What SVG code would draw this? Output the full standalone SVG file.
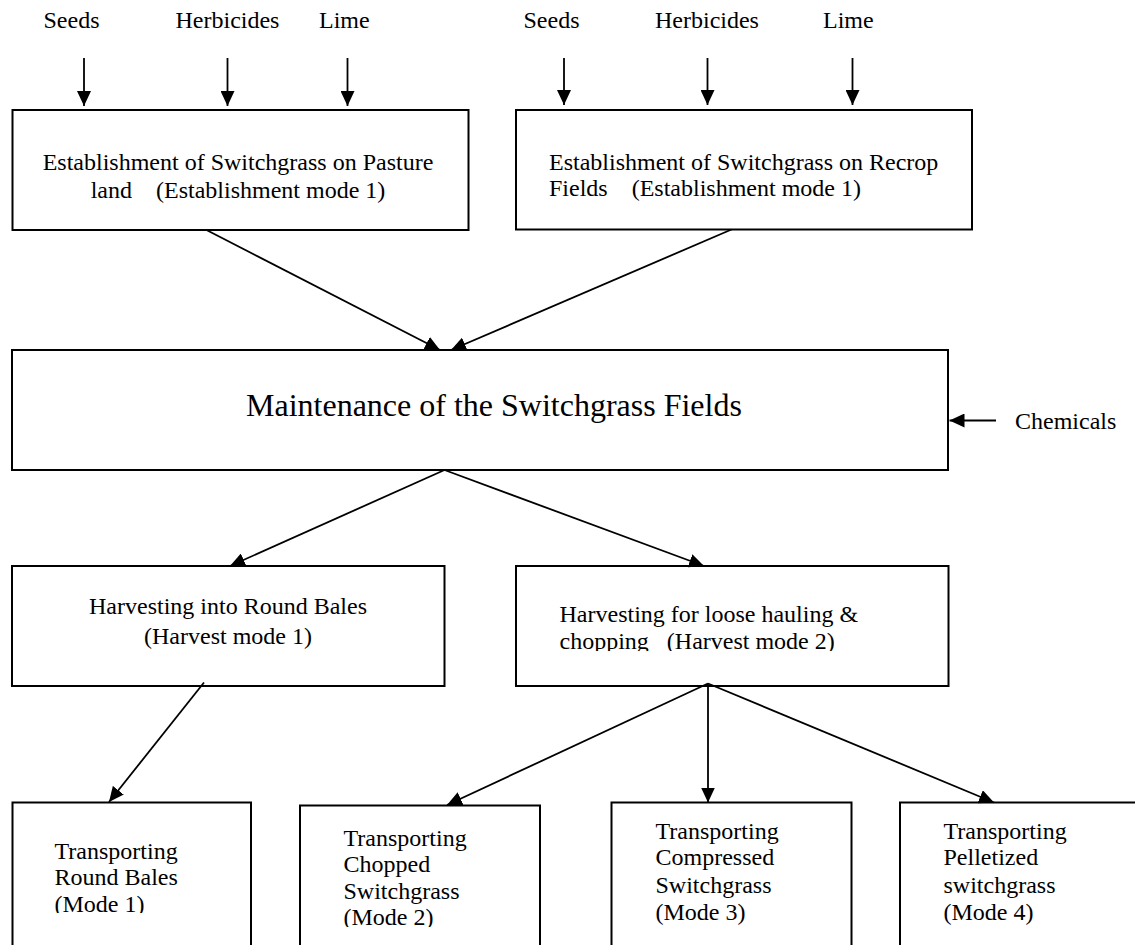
<svg xmlns="http://www.w3.org/2000/svg" width="1135" height="945" viewBox="0 0 1135 945">
<style>
text{font-family:"Liberation Serif","Times New Roman",serif;font-size:24px;fill:#000;white-space:pre}
.box{fill:#fff;stroke:#000;stroke-width:2}
.ln{stroke:#000;stroke-width:1.8;fill:none}
.arr{stroke:#000;stroke-width:1.8;fill:none;marker-end:url(#ah)}
.big{font-size:32px}
</style>
<defs>
<marker id="ah" viewBox="0 0 15 14" refX="15" refY="7" markerWidth="15" markerHeight="14" markerUnits="userSpaceOnUse" orient="auto">
<path d="M0,0 L15,7 L0,14 z" fill="#000"/>
</marker>
<clipPath id="c1"><rect x="0" y="780" width="300" height="133"/></clipPath>
<clipPath id="c2"><rect x="300" y="780" width="300" height="147"/></clipPath>
<clipPath id="ch2"><rect x="516" y="566" width="432" height="85"/></clipPath>
</defs>

<g id="inputs-left">
<text x="43.5" y="28">Seeds</text>
<text x="175.5" y="28">Herbicides</text>
<text x="319" y="28">Lime</text>
</g>
<g id="inputs-right">
<text x="523.5" y="28">Seeds</text>
<text x="655" y="28">Herbicides</text>
<text x="823" y="28">Lime</text>
</g>

<g id="est-pasture">
<rect class="box" x="12.5" y="110" width="456" height="120"/>
<text x="238" y="170" text-anchor="middle">Establishment of Switchgrass on Pasture</text>
<text x="238" y="198" text-anchor="middle">land    (Establishment mode 1)</text>
</g>

<g id="est-recrop">
<rect class="box" x="516" y="110" width="456" height="119.5"/>
<text x="549" y="169.5">Establishment of Switchgrass on Recrop</text>
<text x="549" y="196">Fields    (Establishment mode 1)</text>
</g>

<g id="maintenance">
<rect class="box" x="12" y="350" width="936" height="120"/>
<text class="big" x="246" y="416">Maintenance of the Switchgrass Fields</text>
</g>

<g id="chemicals">
<text x="1015" y="429">Chemicals</text>
</g>

<g id="harvest-1">
<rect class="box" x="12" y="566" width="432.5" height="120"/>
<text x="228" y="614" text-anchor="middle">Harvesting into Round Bales</text>
<text x="228" y="644" text-anchor="middle">(Harvest mode 1)</text>
</g>

<g id="harvest-2">
<rect class="box" x="516" y="566" width="432.5" height="120"/>
<g clip-path="url(#ch2)">
<text x="559.5" y="621.5">Harvesting for loose hauling &amp;</text>
<text x="559.5" y="648.5">chopping   (Harvest mode 2)</text>
</g>
</g>

<g id="transport-1">
<rect class="box" x="12.5" y="802.5" width="238.5" height="160"/>
<g clip-path="url(#c1)">
<text x="54.5" y="858.5">Transporting</text>
<text x="54.5" y="885">Round Bales</text>
<text x="54.5" y="911.5">(Mode 1)</text>
</g>
</g>

<g id="transport-2">
<rect class="box" x="300" y="805.5" width="240" height="160"/>
<g clip-path="url(#c2)">
<text x="343.5" y="846">Transporting</text>
<text x="343.5" y="872">Chopped</text>
<text x="343.5" y="899">Switchgrass</text>
<text x="343.5" y="925">(Mode 2)</text>
</g>
</g>

<g id="transport-3">
<rect class="box" x="611.5" y="802.5" width="240" height="160"/>
<text x="655.5" y="838.5">Transporting</text>
<text x="655.5" y="865">Compressed</text>
<text x="655.5" y="892.5">Switchgrass</text>
<text x="655.5" y="920">(Mode 3)</text>
</g>

<g id="transport-4">
<rect class="box" x="900" y="802.5" width="260" height="160"/>
<text x="943.5" y="838.5">Transporting</text>
<text x="943.5" y="865">Pelletized</text>
<text x="943.5" y="892.5">switchgrass</text>
<text x="943.5" y="920">(Mode 4)</text>
</g>

<g id="connectors">
<line class="arr" x1="84" y1="58" x2="84" y2="106"/>
<line class="arr" x1="227.5" y1="58" x2="227.5" y2="106"/>
<line class="arr" x1="347.5" y1="58" x2="347.5" y2="106"/>
<line class="arr" x1="564" y1="58" x2="564" y2="105"/>
<line class="arr" x1="707.5" y1="58" x2="707.5" y2="105"/>
<line class="arr" x1="852.5" y1="58" x2="852.5" y2="105"/>
<line class="arr" x1="206.5" y1="230" x2="440" y2="350"/>
<line class="arr" x1="731.5" y1="229.5" x2="451" y2="350"/>
<line class="arr" x1="996" y1="420.5" x2="949.5" y2="420.5"/>
<line class="arr" x1="444.5" y1="470" x2="230" y2="566"/>
<line class="arr" x1="444.5" y1="470" x2="704" y2="566"/>
<line class="arr" x1="204" y1="682.5" x2="109" y2="802"/>
<line class="arr" x1="708" y1="683.5" x2="447" y2="805"/>
<line class="arr" x1="708" y1="683.5" x2="708" y2="802.5"/>
<line class="arr" x1="708" y1="683.5" x2="994" y2="802.5"/>
</g>
</svg>
